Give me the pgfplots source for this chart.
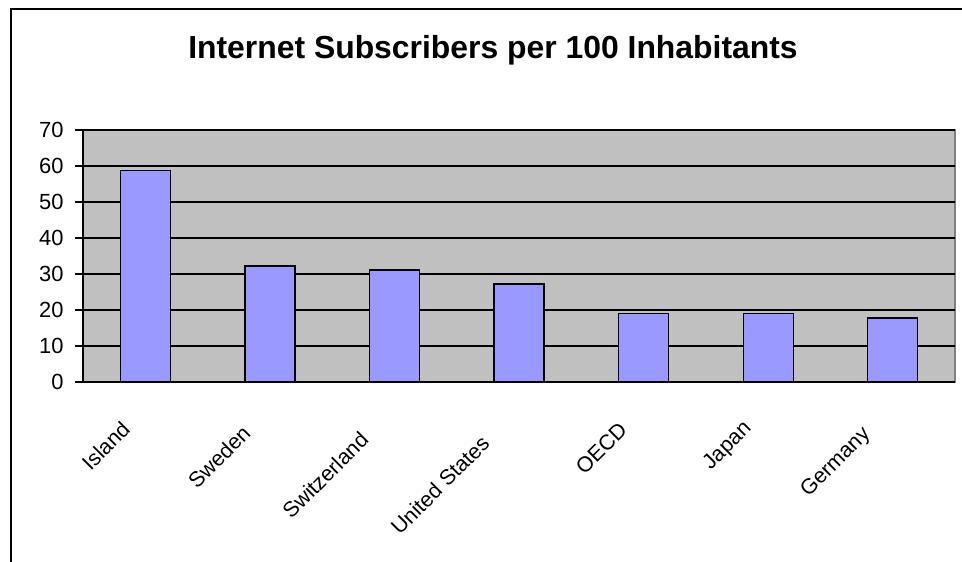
\documentclass[border=0pt]{standalone}
\usepackage{fontspec}
\setmainfont{Liberation Sans}
\usepackage{pgfplots}
\pgfplotsset{compat=1.18}
\definecolor{plotgray}{HTML}{C0C0C0}
\definecolor{barblue}{HTML}{9999FF}
\definecolor{frame}{HTML}{808080}
\newcommand\lbl[1]{\makebox[1.28\width][l]{#1}}
\begin{document}
\begin{tikzpicture}
\useasboundingbox (0bp,0bp) rectangle (962bp,-562bp);
\draw[line width=2bp] (11bp,-562bp) -- (11bp,-9bp) -- (962bp,-9bp);
\node[font=\bfseries\fontsize{32}{36}\selectfont] at (493bp,-50bp) {Internet Subscribers per 100 Inhabitants};
\begin{axis}[
  at={(83bp,-382bp)}, anchor=south west,
  width=872bp, height=252bp, scale only axis,
  xmin=-0.5, xmax=6.5, ymin=0, ymax=70,
  axis background/.style={fill=plotgray, draw=frame, line width=1.2bp},
  axis x line*=bottom, axis y line*=left,
  axis line style={black, line width=1.5bp},
  ytick={0,10,...,70},
  ymajorgrids, grid style={black, line width=1.3bp},
  tick align=outside, major tick length=8bp,
  tick style={black, line width=1.3bp},
  xtick={0,...,6},
  xticklabels={\lbl{Island},\lbl{Sweden},\lbl{Switzerland},\lbl{United States},\lbl{OECD},\lbl{Japan},\lbl{Germany}},
  major x tick style={draw=none},
  extra x ticks={-0.5,0.5,1.5,2.5,3.5,4.5,5.5,6.5},
  extra x tick labels={},
  extra x tick style={grid=none, tick style={black, line width=1.3bp}, major tick length=7bp},
  /pgf/number format/assume math mode=true,
  ticklabel style={font=\fontsize{22}{25}\selectfont},
  yticklabel style={xshift=-8bp},
  xticklabel style={font=\fontsize{21.5}{24}\selectfont, xshift=-8bp, yshift=-24bp, rotate=45, anchor=east, inner sep=0pt},
  ybar, bar width=50bp,
]
\addplot[fill=barblue, draw=black, line width=1.3bp] coordinates {
  (0,58.7) (1,32.2) (2,31.1) (3,27.2) (4,19.0) (5,19.0) (6,17.8)
};
\end{axis}
\end{tikzpicture}
\end{document}
